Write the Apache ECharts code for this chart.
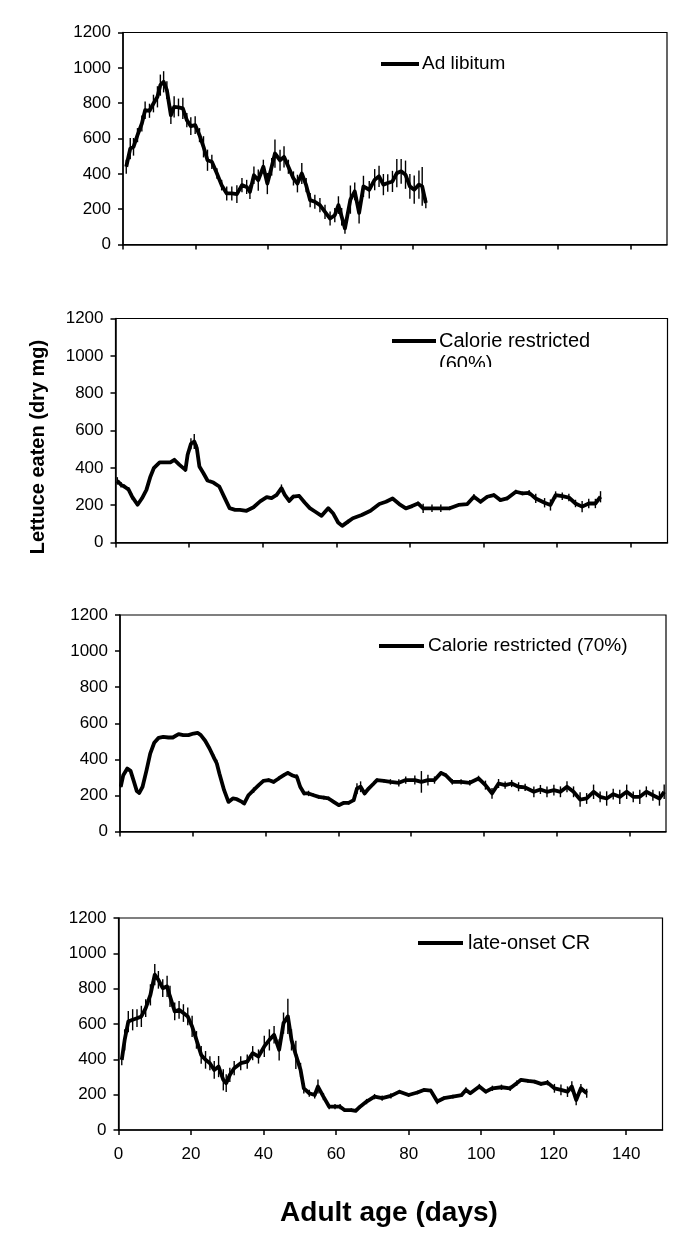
<!DOCTYPE html>
<html>
<head>
<meta charset="utf-8">
<script src="https://cdn.jsdelivr.net/npm/echarts@6/dist/echarts.min.js"></script>
<style>
html,body{margin:0;padding:0;background:#fff;}
#chart{width:691px;height:1250px;}
</style>
</head>
<body>
<div id="chart"></div>
<script>
// ---------- data ----------
var xTicks = [0, 20, 40, 60, 80, 100, 120, 140];
var seriesNames = ['Ad libitum', 'Calorie restricted (60%)', 'Calorie restricted (70%)', 'late-onset CR'];

var adlibDays = [0.9,2,2.9,4,5.2,6.1,7.3,8.4,9.5,10.3,11.2,12.1,13.2,14.1,15.3,16.5,17.6,18.7,19.9,21.1,22.2,23.3,24.5,25.9,27.2,28.6,30,31.4,32.8,34.1,35,36.1,37.3,38.7,39.8,41,41.9,43.3,44.4,45.6,47,48.1,49.3,50.5,51.6,52.9,54.3,55.7,57.1,58.4,59.4,60.3,61.2,62.7,63.9,65.1,66.3,67.9,69.4,70.6,71.8,73,74.3,75.5,76.7,77.9,79.1,80.3,81.6,82.5,83.5];
var adlibVals = [440,543,553,619,685,760,757,798,836,902,921,874,732,779,776,770,704,670,676,619,553,477,468,402,336,289,289,285,336,326,298,392,364,440,345,440,515,477,496,440,374,345,402,336,251,242,223,185,147,166,223,157,91,254,301,179,329,310,367,386,339,348,357,404,414,395,329,310,339,329,235];
var adlibErr  = [40,60,50,40,45,50,40,50,60,60,60,50,50,60,50,60,40,50,50,40,60,60,40,30,30,40,40,50,40,40,40,50,60,40,60,50,80,60,60,40,40,50,60,40,40,40,40,40,40,40,50,50,30,80,50,60,60,50,60,60,60,50,60,80,70,80,70,80,80,110,30];

var cr60Days = [0.5,1.5,2.4,3.6,4.5,6,7.2,8.4,9.5,10.4,12,13.5,14.9,16,17.4,19,19.6,20.5,21.4,22.1,22.8,23.9,25,26.6,28.2,29.5,31,32.5,33.8,35.6,37.5,39.3,41.1,42.4,43.8,45.1,46,47.2,48.3,49.9,51.4,52.8,54.2,56,57.8,59.1,60.5,61.6,63.2,64.5,66.9,69.3,71.7,73.5,75.3,77.1,78.9,80.6,82.2,83.6,86,88.4,90.8,93.2,95.6,97.4,99.2,101,102.8,104.6,106.4,108.8,110.6,112.4,114.2,116.6,118.2,119.6,121.4,123.2,125,126.8,128.6,130.4,131.8];
var cr60Vals = [330,309,300,282,246,202,237,282,354,398,429,429,429,443,416,389,470,529,541,505,407,371,332,321,300,246,184,175,175,170,189,220,243,238,255,291,255,223,246,250,214,184,166,143,184,157,107,89,112,130,147,170,206,218,236,206,183,195,209,183,183,183,183,201,206,245,218,245,254,227,236,272,263,266,236,213,201,254,248,241,209,192,209,209,245];
var cr60Err  = [20,15,10,15,15,5,5,5,5,5,5,5,5,5,5,10,20,30,40,20,10,5,5,5,5,5,5,5,5,5,5,5,5,5,10,20,10,10,10,10,5,5,5,5,5,5,5,5,10,5,5,5,5,5,5,5,5,10,10,25,20,20,10,5,5,15,10,10,10,10,10,10,10,15,25,25,30,20,20,20,20,30,25,25,30];

var cr70Days = [0.2,0.9,2,2.9,3.7,4.6,5.3,6.2,7.3,8.3,9.4,10.6,11.9,13.3,14.5,16.1,17.4,18.8,20.2,21.3,22.2,23.4,24.6,25.7,26.6,27.3,28.6,29.8,31,32.1,33.5,34.1,35.3,36.7,38.1,39.4,40.8,42.2,43.6,45,46.1,47.2,48.6,49.5,50.6,51.8,53.2,54.6,56,57.3,58.7,60.1,61.5,62.8,64.2,65.1,66.1,67.2,68.3,69.7,70.6,72.5,74.3,76.6,78.5,81,82.8,84.6,86.4,88.2,89.5,91.3,93.7,96.1,98.5,100.4,102.2,104,105.8,107.6,109.5,111.3,113.7,115.5,117.3,119.2,121,122.8,124.6,126.4,128.2,130.1,131.9,133.7,135.5,137.3,139.2,141,142.8,144.6,146.4,148.2,149.5];
var cr70Vals = [248,312,349,336,285,225,214,248,340,432,492,519,525,521,521,540,534,534,543,547,534,503,460,414,377,322,229,164,183,179,164,155,201,229,257,281,285,275,294,312,325,312,303,248,211,211,201,192,188,183,164,146,159,159,174,238,248,211,238,266,285,281,275,270,285,285,275,285,285,325,312,275,275,270,294,257,211,266,257,266,248,244,220,233,220,229,220,248,220,177,183,220,192,183,207,192,220,192,192,220,201,183,220];
var cr70Err  = [5,5,5,5,5,5,5,5,5,5,5,5,5,5,5,5,5,5,5,5,5,5,10,15,20,10,5,5,5,5,5,5,10,15,10,10,10,10,10,10,10,10,15,10,10,15,10,10,10,10,10,5,10,10,10,30,30,10,10,10,10,10,15,20,20,25,60,30,20,10,10,15,15,15,15,25,30,25,20,20,25,20,30,25,30,30,30,30,30,40,30,40,30,40,30,40,40,30,40,30,30,40,40];

var lateDays = [0.9,1.7,2.7,3.9,5.1,6.3,7.5,8.8,10,11,12.2,13.4,14.2,15.5,16.7,17.9,19.1,20.3,21.5,22.8,24,25.2,26.4,27.6,28.9,29.7,30.7,31.9,33.7,35.5,37,38.6,40.2,41.6,42.9,44.3,45.5,46.7,47.7,48.9,50.2,51.1,52.6,54.1,55,56.5,58.1,59.7,61.1,62.3,64.2,65.4,66.6,68.4,70.6,72.7,75.1,77.5,80,82.4,84.2,86.1,87.9,89.7,92.2,94.6,95.8,97,99.5,101.3,103.1,105.6,108,109.8,111,112.9,114.7,116.5,118.3,120.2,122,123.8,125,126.2,127.5,129.1];
var lateVals = [397,510,614,624,633,643,690,765,879,850,803,813,756,671,680,662,643,586,510,425,397,378,340,359,284,265,312,350,378,387,435,416,473,510,539,454,605,643,510,425,340,236,208,198,246,189,132,132,132,113,113,108,132,161,189,180,193,217,198,212,227,223,161,180,189,198,227,208,246,217,236,242,236,265,284,278,274,261,268,236,227,217,246,170,236,208];
var lateErr  = [30,60,60,60,50,60,50,60,60,50,50,60,60,50,50,50,50,60,50,50,50,40,50,60,60,50,40,40,40,40,40,40,60,60,50,60,60,100,60,80,40,30,20,20,40,20,15,15,15,10,10,5,10,15,15,15,15,10,10,10,10,10,15,10,10,10,15,10,15,10,15,15,15,15,10,10,10,10,15,25,30,30,30,30,25,25];

var yTickMax = 1200, yTickStep = 200, xMax = 150;

// ---------- layout ----------
var grids = [
  {left: 123, top: 32.5, width: 544, height: 212},
  {left: 115.5, top: 318.5, width: 552, height: 224},
  {left: 120, top: 615, width: 546, height: 216.5},
  {left: 118.5, top: 918, width: 544, height: 212}
];
var panels = [
  [adlibDays, adlibVals, adlibErr],
  [cr60Days, cr60Vals, cr60Err],
  [cr70Days, cr70Vals, cr70Err],
  [lateDays, lateVals, lateErr]
];

var FONT = '"Liberation Sans", Arial, sans-serif';
var chart = echarts.init(document.getElementById('chart'), null, {renderer: 'canvas'});

var gridOpt = [], xAxes = [], yAxes = [], series = [];
grids.forEach(function (g, i) {
  gridOpt.push({left: g.left, top: g.top, width: g.width, height: g.height,
    show: true, borderColor: '#000', borderWidth: 1.2, backgroundColor: 'transparent', containLabel: false});
  xAxes.push({type: 'value', gridIndex: i, min: 0, max: xMax, interval: 20,
    axisLine: {show: true, onZero: false, lineStyle: {color: '#000', width: 1.5}},
    axisTick: {show: true, inside: false, length: 5, customValues: xTicks, lineStyle: {color: '#000', width: 1.5}},
    axisLabel: {show: i === 3, customValues: xTicks, color: '#000', fontSize: 17, fontFamily: FONT, margin: 16,
      formatter: function (v) { return String(v); }},
    splitLine: {show: false}});
  yAxes.push({type: 'value', gridIndex: i, min: 0, max: yTickMax, interval: yTickStep,
    axisLine: {show: true, lineStyle: {color: '#000', width: 1.5}},
    axisTick: {show: true, inside: false, length: 5, lineStyle: {color: '#000', width: 1.5}},
    axisLabel: {color: '#000', fontSize: 17, fontFamily: FONT, margin: 12,
      formatter: function (v) { return String(v); }},
    splitLine: {show: false}});
  var p = panels[i];
  var lineData = p[0].map(function (d, k) { return [d, p[1][k]]; });
  var errData = p[0].map(function (d, k) { return [d, p[1][k] - p[2][k], p[1][k] + p[2][k]]; });
  series.push({
    type: 'custom', name: seriesNames[i] + ' error', xAxisIndex: i, yAxisIndex: i,
    data: errData, encode: {x: 0, y: [1, 2]}, silent: true,
    renderItem: function (params, api) {
      var a = api.coord([api.value(0), api.value(1)]);
      var b = api.coord([api.value(0), api.value(2)]);
      return {type: 'line', shape: {x1: a[0], y1: a[1], x2: b[0], y2: b[1]},
        style: {stroke: '#000', lineWidth: 1.4}};
    }
  });
  series.push({
    type: 'line', name: seriesNames[i], xAxisIndex: i, yAxisIndex: i,
    data: lineData, showSymbol: false, symbol: 'none',
    lineStyle: {color: '#000', width: 3.8, join: 'round'}, itemStyle: {color: '#000'}, z: 3
  });
});

function legendItem(x1, x2, y, tx, text, fs) {
  return [
    {type: 'line', shape: {x1: x1, y1: y, x2: x2, y2: y}, style: {stroke: '#000', lineWidth: 3.8}, z: 10},
    {type: 'text', x: tx, y: y, style: {text: text, font: fs + 'px ' + FONT, fill: '#000', textVerticalAlign: 'middle', textAlign: 'left'}, z: 10}
  ];
}

var graphics = [];
graphics = graphics.concat(legendItem(381, 419, 64, 422, 'Ad libitum', 19));
graphics = graphics.concat(legendItem(392, 436, 341, 439, 'Calorie restricted', 20));
graphics.push({type: 'text', x: 439, y: 364, style: {text: '(60%)', font: '20px ' + FONT, fill: '#000', textVerticalAlign: 'middle', textAlign: 'left'}, z: 10});
graphics.push({type: 'rect', shape: {x: 434, y: 367, width: 70, height: 14}, style: {fill: '#fff'}, z: 11});
graphics = graphics.concat(legendItem(379, 424, 646, 428, 'Calorie restricted (70%)', 19));
graphics = graphics.concat(legendItem(418, 463, 943, 468, 'late-onset CR', 20));
graphics.push({type: 'text', x: 389, y: 1213, style: {text: 'Adult age (days)', font: 'bold 28px ' + FONT, fill: '#000', textAlign: 'center', textVerticalAlign: 'middle'}, z: 10});
graphics.push({type: 'text', x: 38, y: 447, rotation: Math.PI / 2, style: {text: 'Lettuce eaten (dry mg)', font: 'bold 20px ' + FONT, fill: '#000', textAlign: 'center', textVerticalAlign: 'middle'}, z: 10});

chart.setOption({
  animation: false,
  backgroundColor: '#fff',
  grid: gridOpt,
  xAxis: xAxes,
  yAxis: yAxes,
  series: series,
  graphic: graphics
});
</script>
</body>
</html>
